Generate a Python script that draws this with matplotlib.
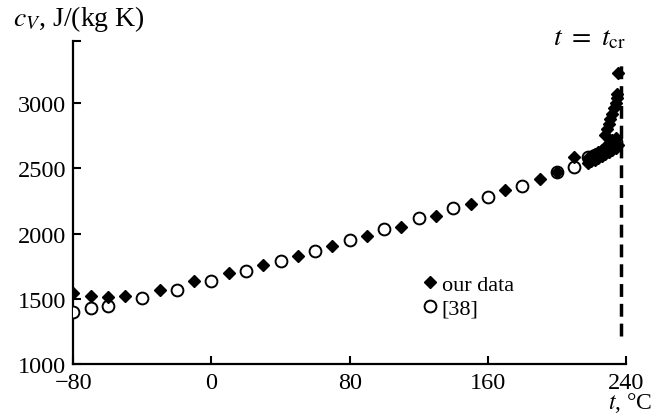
import matplotlib
matplotlib.use('Agg')
import matplotlib.pyplot as plt

# our data (filled diamonds)
our_t = [-80, -70, -60, -50, -30, -10, 10, 30, 50, 70, 90, 110, 130, 150, 170, 190, 200, 210,
         218, 220, 222, 224, 226, 228, 230, 232, 234, 235.5,
         218, 220, 222, 224, 226, 228, 230, 232, 234,
         228, 229, 230, 231, 232, 233, 234, 234.5, 235, 235.2]
our_cv = [1545, 1519, 1512, 1519, 1568, 1637, 1698, 1762, 1826, 1907, 1984, 2048, 2137, 2227, 2335, 2419, 2473, 2585,
          2545, 2555, 2565, 2580, 2595, 2610, 2625, 2640, 2660, 2680,
          2580, 2595, 2610, 2625, 2645, 2665, 2690, 2715, 2735,
          2760, 2800, 2840, 2880, 2920, 2960, 3000, 3040, 3070, 3230]

# reference [38] (open circles)
ref_t = [-80, -70, -60, -40, -20, 0, 20, 40, 60, 80, 100, 120, 140, 160, 180, 200, 210,
         218, 222, 226, 229, 232, 234]
ref_cv = [1401, 1427, 1447, 1509, 1568, 1639, 1713, 1790, 1864, 1951, 2035, 2118, 2199, 2283, 2368, 2473, 2509,
          2590, 2600, 2620, 2640, 2680, 2700]

t_cr = 237.3
cr_line = [1215, 3316]

x_ticks = [-80, 0, 80, 160, 240]
x_labels = ['\u221280', '0', '80', '160', '240']
y_ticks = [1000, 1500, 2000, 2500, 3000]

plt.rcParams['font.family'] = ['Liberation Serif', 'DejaVu Serif']
plt.rcParams['mathtext.fontset'] = 'stix'

fig = plt.figure(figsize=(6.56, 4.14), dpi=100)
ax = fig.add_axes([0.1117, 0.1184, 0.8426, 0.7809])

ax.plot(ref_t, ref_cv, 'o', ms=8.5, mfc='white', mec='black', mew=1.4, label='[38]', zorder=3)
ax.plot(our_t, our_cv, 'D', ms=6.2, color='black', label='our data', zorder=4)
ax.vlines(t_cr, cr_line[0], cr_line[1], colors='black', lw=2.5, linestyles=(0, (3.7, 2.0)))

ax.set_xlim(-80, 240)
ax.set_ylim(1000, 3480)
ax.set_xticks(x_ticks)
ax.set_xticklabels(x_labels)
ax.set_yticks(y_ticks)
ax.set_yticks([3480], minor=True)
ax.tick_params(axis='both', which='both', direction='in', length=6, width=1.5,
               labelsize=17.5)
ax.tick_params(axis='y', pad=5)
ax.tick_params(axis='x', pad=5.5)
for s in ['top', 'right']:
    ax.spines[s].set_visible(False)
for s in ['left', 'bottom']:
    ax.spines[s].set_linewidth(1.6)

handles, labels = ax.get_legend_handles_labels()
ax.legend(handles[::-1], labels[::-1], loc='upper left', bbox_to_anchor=(0.62, 0.305),
          frameon=False, fontsize=16, handlelength=0.5, handletextpad=0.25,
          labelspacing=0.15, borderaxespad=0)

fig.text(0.02, 0.955, r'$c_V$, J/(kg K)', fontsize=20, va='center', ha='left')
fig.text(0.955, 0.905, r'$t\ =\ t_{\mathrm{cr}}$', fontsize=20, va='center', ha='right')
fig.text(0.995, 0.013, r'$t$, °C', fontsize=17, va='baseline', ha='right')

fig.savefig('out.png', dpi=100)
